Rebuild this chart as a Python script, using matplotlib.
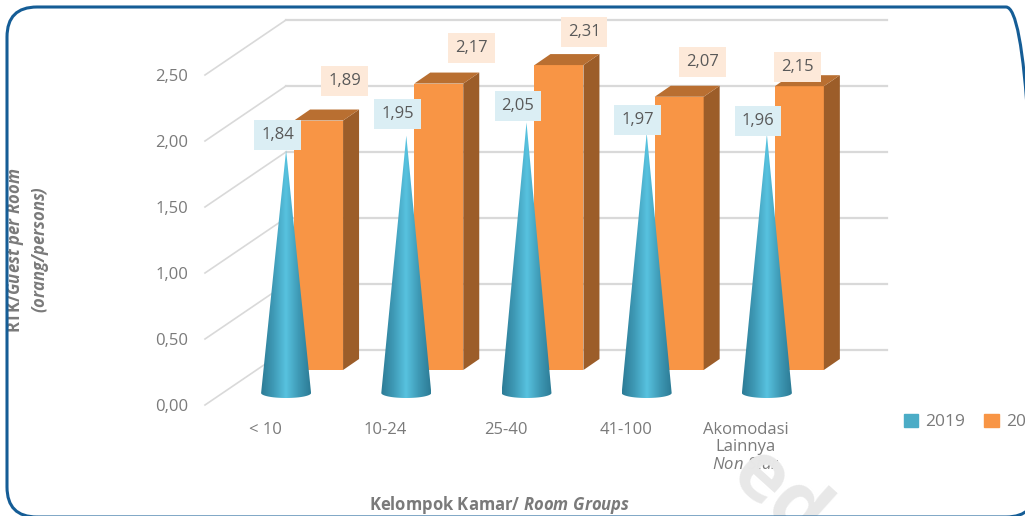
import numpy as np
import matplotlib
matplotlib.use('Agg')
import matplotlib.pyplot as plt
import matplotlib.ticker as ticker
from matplotlib.colors import LinearSegmentedColormap
from matplotlib.patches import FancyBboxPatch, PathPatch, Patch, Polygon
from matplotlib.path import Path
from matplotlib.transforms import IdentityTransform

categories = ['< 10', '10-24', '25-40', '41-100', 'Akomodasi\nLainnya\n$\\mathit{Non\\ Star}$']
values_2019 = [1.84, 1.95, 2.05, 1.97, 1.96]
values_2020 = [1.89, 2.17, 2.31, 2.07, 2.15]
y_ticks = [0.0, 0.5, 1.0, 1.5, 2.0, 2.5]

# hand placed data labels, pixels from the mark
label_off_2019 = [(-8.5, 15), (-8.5, 22), (-8.5, 16), (-9, 13), (-9, 13)]
label_off_2020 = [(26, 40), (33, 36), (25, 33), (23, 35), (-2, 19)]

TEXT = '#7a7a7a'
LABEL = '#595959'
GRID = '#d9d9d9'
BLUE = '#4bacc6'
ORANGE = '#f89545'

plt.rcParams['font.family'] = 'Open Sans'
plt.rcParams['mathtext.fontset'] = 'custom'
plt.rcParams['mathtext.rm'] = 'Open Sans'
plt.rcParams['mathtext.it'] = 'Open Sans:italic'
plt.rcParams['mathtext.bf'] = 'Open Sans:bold'
plt.rcParams['mathtext.bfit'] = 'Open Sans:italic:bold'

W, H = 1025, 516
fig = plt.figure(figsize=(W / 100, H / 100), dpi=100)
ax = fig.add_axes([205 / W, (H - 405) / H, 601 / W, 330 / H])

px_x = 1 / 120.25  # one pixel in category units
px_y = 1 / 132.0   # one pixel in value units
x = np.arange(len(categories))

# walls of the 3d box
back_dx, back_dy = 81 * px_x, 55 * px_y
for t in y_ticks:
    ax.plot([-0.5, -0.5 + back_dx], [t, t + back_dy], color=GRID, lw=1.2, clip_on=False, zorder=1)
    ax.plot([-0.5 + back_dx, 4.5 + back_dx], [t + back_dy, t + back_dy], color=GRID, lw=1.6,
            clip_on=False, zorder=1)

# 2020 bars
bar_left = 29 * px_x
bar_w = 49 * px_x
bar_base = 35 * px_y
depth_x, depth_y = 16 * px_x, 11 * px_y
ax.bar(x + bar_left, values_2020, bar_w, bottom=bar_base, align='edge', color=ORANGE,
       clip_on=False, zorder=3)
for xi, v in zip(x, values_2020):
    l, r = xi + bar_left, xi + bar_left + bar_w
    b, t = bar_base, bar_base + v
    ax.add_patch(Polygon([(r, b), (r + depth_x, b + depth_y), (r + depth_x, t + depth_y), (r, t)],
                         fc='#9c5d29', ec='none', clip_on=False, zorder=3))
    ax.add_patch(Polygon([(l, t), (l + depth_x, t + depth_y), (r + depth_x, t + depth_y), (r, t)],
                         fc='#b96f31', ec='none', clip_on=False, zorder=3))

# 2019 cones
cone_x = 21 * px_x
cone_hw = 25 * px_x
cone_base = 12 * px_y
cone_sag = 5 * px_y
cone_cmap = LinearSegmentedColormap.from_list(
    'cone', ['#2c7b95', '#3f9ab6', '#58c2df', '#3f9ab6', '#2c7b95'])
shade = np.linspace(0, 1, 256).reshape(1, -1)
for xi, v in zip(x, values_2019):
    c = xi + cone_x
    a = np.linspace(np.pi, 2 * np.pi, 40)
    arc = np.column_stack([c + cone_hw * np.cos(a), cone_base + cone_sag * np.sin(a)])
    pts = np.vstack([[(c, cone_base + v)], arc, [(c, cone_base + v)]])
    codes = [Path.MOVETO] + [Path.LINETO] * (len(pts) - 2) + [Path.CLOSEPOLY]
    outline = PathPatch(Path(pts, codes), fc='none', ec='none', transform=ax.transData)
    ax.add_patch(outline)
    im = ax.imshow(shade, cmap=cone_cmap, aspect='auto', zorder=4,
                   extent=[c - cone_hw, c + cone_hw, cone_base - cone_sag, cone_base + v])
    im.set_clip_path(outline)

# data labels
for xi, v, off in zip(x, values_2019, label_off_2019):
    ax.annotate(f'{v:.2f}'.replace('.', ','), (xi + cone_x, cone_base + v), xytext=off,
                textcoords='offset pixels', ha='center', va='center', color=LABEL, fontsize=12,
                bbox=dict(boxstyle='square,pad=0.42', fc='#dbeef4', ec='none'),
                annotation_clip=False, zorder=6)
for xi, v, off in zip(x, values_2020, label_off_2020):
    ax.annotate(f'{v:.2f}'.replace('.', ','), (xi + bar_left + bar_w / 2, bar_base + v), xytext=off,
                textcoords='offset pixels', ha='center', va='center', color=LABEL, fontsize=12,
                bbox=dict(boxstyle='square,pad=0.42', fc='#fde9d9', ec='none'),
                annotation_clip=False, zorder=6)

ax.set_xlim(-0.5, 4.5)
ax.set_ylim(0, 2.5)
ax.set_xticks(x)
ax.set_xticklabels(categories, linespacing=1.15)
ax.set_yticks(y_ticks)
ax.yaxis.set_major_formatter(ticker.FuncFormatter(lambda v, _: f'{v:.2f}'.replace('.', ',')))
ax.tick_params(axis='both', length=0, labelcolor=TEXT, labelsize=12)
ax.tick_params(axis='y', pad=12)
ax.tick_params(axis='x', pad=12)
for s in ax.spines.values():
    s.set_visible(False)
ax.patch.set_alpha(0)

ax.set_ylabel('RTK/$\\mathbfit{Guest\\ per\\ Room}$\n$\\mathbfit{(orang/persons)}$', color=TEXT,
              fontsize=12, fontweight='bold', linespacing=1.25, multialignment='center')
ax.yaxis.set_label_coords(-0.256, 0.47)
ax.set_xlabel('Kelompok Kamar/ $\\mathbfit{Room\\ Groups}$', color=TEXT, fontsize=12, fontweight='bold')
ax.xaxis.set_label_coords(0.49, -0.27)

handles = [Patch(color=BLUE, label='2019'), Patch(color=ORANGE, label='2020')]
leg = fig.legend(handles=handles, ncol=2, frameon=False, loc='center left', fontsize=12.5,
                 bbox_to_anchor=(888 / W, (H - 422) / H), handlelength=0.85, handleheight=0.85,
                 handletextpad=0.4, columnspacing=1.1, labelcolor=TEXT)

# watermark piece and rounded frame
fig.text(778 / W, (H - 497) / H, 'ed', fontsize=58, fontweight='bold', color='#e8e8e8',
         rotation=-42, ha='center', va='center', zorder=0)
fig.add_artist(FancyBboxPatch((7, -1), 1029, 510, boxstyle='round,pad=0,rounding_size=30',
                              transform=IdentityTransform(), fc='none', ec='#155d96', lw=2.2))

fig.savefig('out.png', dpi=100)
